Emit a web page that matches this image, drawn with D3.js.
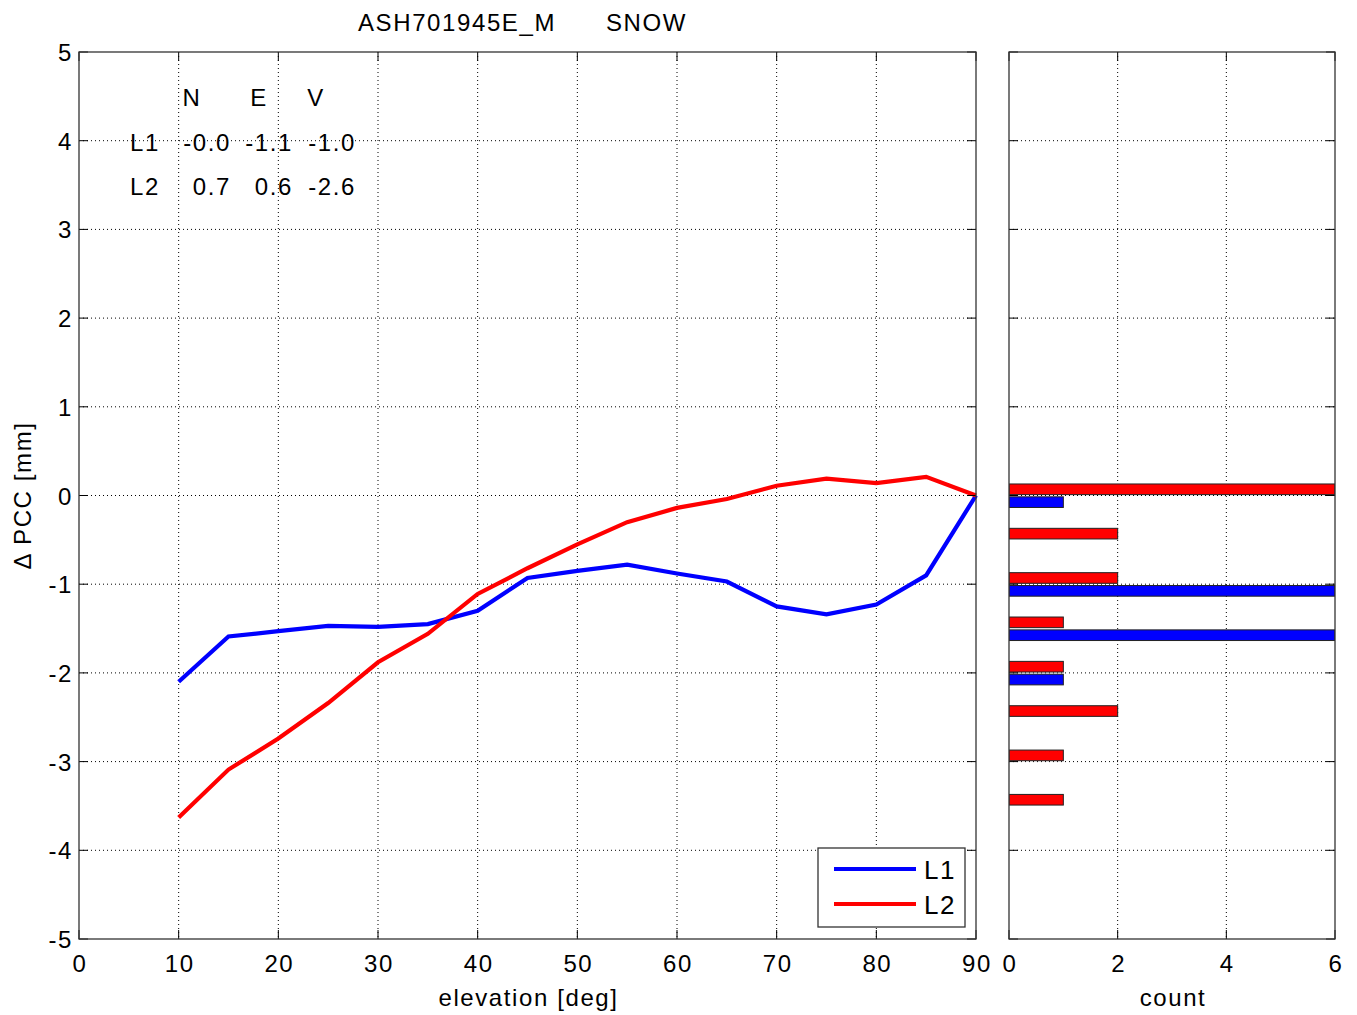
<!DOCTYPE html>
<html><head><meta charset="utf-8">
<script src="https://cdn.jsdelivr.net/npm/d3@7"></script>
<style>
body{margin:0;background:#fff;}
text{font-family:"Liberation Sans",Arial,sans-serif;fill:#000;letter-spacing:1.6px;}
</style></head><body>
<svg id="c" width="1357" height="1015"></svg>
<script>
const elevation = [10,15,20,25,30,35,40,45,50,55,60,65,70,75,80,85,90];
const L1 = [-2.10,-1.59,-1.53,-1.47,-1.48,-1.45,-1.30,-0.93,-0.85,-0.78,-0.88,-0.97,-1.25,-1.34,-1.23,-0.90,0.0];
const L2 = [-3.63,-3.09,-2.74,-2.34,-1.88,-1.56,-1.11,-0.82,-0.55,-0.30,-0.14,-0.04,0.11,0.19,0.14,0.21,0.0];
const binCenters = [0,-0.5,-1,-1.5,-2,-2.5,-3,-3.5];
const countL1 = [1,0,6,6,1,0,0,0];
const countL2 = [6,2,2,1,1,2,1,1];
const xTicks = [0,10,20,30,40,50,60,70,80,90];
const yTicks = [-5,-4,-3,-2,-1,0,1,2,3,4,5];
const cTicks = [0,2,4,6];
const tableHead = ["N","E","V"];
const tableRows = [["L1","-0.0","-1.1","-1.0"],["L2","0.7","0.6","-2.6"]];
const titleParts = ["ASH701945E_M","SNOW"];

const svg = d3.select("#c");
const main = {l:79,r:976,t:52,b:939};
const hist = {l:1009,r:1335,t:52,b:939};
const x = d3.scaleLinear().domain([0,90]).range([main.l,main.r]);
const y = d3.scaleLinear().domain([-5,5]).range([main.b,main.t]);
const xc = d3.scaleLinear().domain([0,6]).range([hist.l,hist.r]);
const fs = 24;

function grid(g, area, xs, xv, ys){
  g.selectAll(".gx").data(xv).enter().append("line")
    .attr("x1",d=>xs(d)).attr("x2",d=>xs(d)).attr("y1",area.t).attr("y2",area.b)
    .attr("stroke","#000").attr("stroke-width",1).attr("stroke-dasharray","1,3");
  g.selectAll(".gy").data(ys).enter().append("line")
    .attr("x1",area.l).attr("x2",area.r).attr("y1",d=>y(d)).attr("y2",d=>y(d))
    .attr("stroke","#000").attr("stroke-width",1).attr("stroke-dasharray","1,3");
}
function frameTicks(g, area, xs, xv, ys){
  const tl=9;
  xv.forEach(d=>{
    g.append("line").attr("x1",xs(d)).attr("x2",xs(d)).attr("y1",area.b).attr("y2",area.b-tl).attr("stroke","#000");
    g.append("line").attr("x1",xs(d)).attr("x2",xs(d)).attr("y1",area.t).attr("y2",area.t+tl).attr("stroke","#000");
  });
  ys.forEach(d=>{
    g.append("line").attr("x1",area.l).attr("x2",area.l+tl).attr("y1",y(d)).attr("y2",y(d)).attr("stroke","#000");
    g.append("line").attr("x1",area.r).attr("x2",area.r-tl).attr("y1",y(d)).attr("y2",y(d)).attr("stroke","#000");
  });
  g.append("rect").attr("x",area.l).attr("y",area.t).attr("width",area.r-area.l).attr("height",area.b-area.t)
    .attr("fill","none").attr("stroke","#333").attr("stroke-width",1.3);
}

// main plot
const gm = svg.append("g");
grid(gm, main, x, xTicks.slice(1,-1), yTicks.slice(1,-1));
const line = d3.line().x((d,i)=>x(elevation[i])).y(d=>y(d));
gm.append("path").datum(L1).attr("d",line).attr("fill","none").attr("stroke","#0000ff").attr("stroke-width",4.2);
gm.append("path").datum(L2).attr("d",line).attr("fill","none").attr("stroke","#ff0000").attr("stroke-width",4.2);
frameTicks(gm, main, x, xTicks, yTicks);

gm.selectAll(".xl").data(xTicks).enter().append("text")
  .attr("x",d=>x(d)+1).attr("y",main.b+33).attr("text-anchor","middle").attr("font-size",fs).text(d=>d);
gm.selectAll(".yl").data(yTicks).enter().append("text")
  .attr("x",main.l-6).attr("y",d=>y(d)+9).attr("text-anchor","end").attr("font-size",fs).text(d=>d);
gm.append("text").attr("x",(main.l+main.r)/2+1).attr("y",1006).attr("text-anchor","middle").attr("font-size",fs).text("elevation [deg]");
gm.append("text").attr("transform",`translate(31,${(main.t+main.b)/2}) rotate(-90)`).attr("text-anchor","middle").attr("font-size",fs).text("Δ PCC [mm]");
svg.append("text").attr("x",358).attr("y",31).attr("font-size",fs).text(titleParts[0]);
svg.append("text").attr("x",606).attr("y",31).attr("font-size",fs).text(titleParts[1]);

// table
const headX=[192,259,316];
tableHead.forEach((t,i)=>gm.append("text").attr("x",headX[i]).attr("y",106).attr("text-anchor","middle").attr("font-size",fs).text(t));
const colRight=[160,231,293,356];
tableRows.forEach((row,r)=>{
  row.forEach((t,i)=>gm.append("text").attr("x",colRight[i]).attr("y",151+r*44).attr("text-anchor","end").attr("font-size",fs).text(t));
});

// legend
const lg = gm.append("g");
lg.append("rect").attr("x",818).attr("y",848).attr("width",147).attr("height",79).attr("fill","#fff").attr("stroke","#333").attr("stroke-width",1.3);
[["L1","#0000ff",869],["L2","#ff0000",904]].forEach(([t,c,yy])=>{
  lg.append("line").attr("x1",834).attr("x2",916).attr("y1",yy).attr("y2",yy).attr("stroke",c).attr("stroke-width",4.2);
  lg.append("text").attr("x",924).attr("y",yy+10).attr("font-size",fs+2).text(t);
});

// histogram
const gh = svg.append("g");
grid(gh, hist, xc, cTicks.slice(1,-1), yTicks.slice(1,-1));
const bh = 0.12;
const clipId="hc";
svg.append("clipPath").attr("id",clipId).append("rect").attr("x",hist.l).attr("y",hist.t).attr("width",hist.r-hist.l).attr("height",hist.b-hist.t);
const bars = gh.append("g").attr("clip-path",`url(#${clipId})`);
bars.selectAll(".b2").data(binCenters.map((c,i)=>({c,n:countL2[i]})).filter(d=>d.n>0)).enter().append("rect")
  .attr("x",xc(0)).attr("y",d=>y(d.c+0.07+bh/2)).attr("width",d=>xc(d.n)-xc(0)).attr("height",y(0)-y(bh))
  .attr("fill","#ff0000").attr("stroke","#222").attr("stroke-width",1);
bars.selectAll(".b1").data(binCenters.map((c,i)=>({c,n:countL1[i]})).filter(d=>d.n>0)).enter().append("rect")
  .attr("x",xc(0)).attr("y",d=>y(d.c-0.075+bh/2)).attr("width",d=>xc(d.n)-xc(0)).attr("height",y(0)-y(bh))
  .attr("fill","#0000ff").attr("stroke","#222").attr("stroke-width",1);
frameTicks(gh, hist, xc, cTicks, yTicks);
gh.selectAll(".cl").data(cTicks).enter().append("text")
  .attr("x",d=>xc(d)+1).attr("y",hist.b+33).attr("text-anchor","middle").attr("font-size",fs).text(d=>d);
gh.append("text").attr("x",(hist.l+hist.r)/2+1).attr("y",1006).attr("text-anchor","middle").attr("font-size",fs).text("count");
</script></body></html>
